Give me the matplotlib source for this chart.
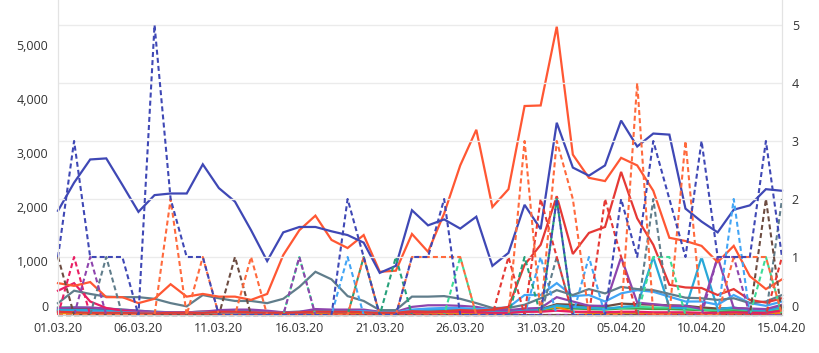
import matplotlib.pyplot as plt
import matplotlib.transforms as mtransforms
import matplotlib.ticker as mticker
import numpy as np
import pandas as pd

plt.rcParams["font.family"] = ["Open Sans", "DejaVu Sans"]

# ---------------------------------------------------------------------------
# data: one value per day, 01.03.20 .. 15.04.20
# ---------------------------------------------------------------------------
dates = pd.date_range("2020-03-01", "2020-04-15", freq="D")
date_labels = [d.strftime("%d.%m.%y") for d in dates]

# solid lines, left axis
indigo_solid = [1930, 2450, 2880, 2900, 2410, 1910, 2220, 2250, 2250, 2790, 2350, 2100, 1570, 1000, 1530, 1630,
                1630, 1550, 1480, 1340, 780, 910, 1940, 1660, 1770, 1600, 1820, 910, 1150, 2040, 1590, 3560,
                2730, 2580, 2770, 3600, 3120, 3360, 3340, 1970, 1730, 1530, 1950, 2030, 2330, 2300]
deeporange_solid = [590, 540, 610, 330, 330, 220, 300, 570, 340, 390, 340, 340, 280, 390, 1110, 1570,
                    1840, 1390, 1240, 1480, 800, 820, 1500, 1170, 1880, 2770, 3430, 2000, 2330, 3870, 3880, 5340,
                    2970, 2540, 2480, 2910, 2770, 2300, 1430, 1370, 1280, 980, 1280, 720, 480, 660]
red_solid = [60, 50, 40, 40, 40, 30, 30, 40, 40, 40, 60, 60, 50, 40, 40, 50, 60, 60, 60, 50, 40, 40, 70, 60,
             70, 90, 80, 100, 150, 930, 1300, 2200, 1130, 1520, 1630, 2650, 1790, 1300, 560, 510, 500, 370,
             480, 280, 230, 310]
bluegrey_solid = [220, 450, 390, 340, 330, 330, 300, 220, 160, 370, 310, 260, 260, 220, 300, 520, 800, 660,
                  350, 260, 90, 90, 340, 340, 350, 300, 220, 130, 130, 190, 310, 460, 370, 480, 400, 520, 480,
                  460, 390, 320, 310, 280, 310, 220, 250, 370]
pink_solid = [450, 590, 250, 130, 80, 50, 40, 40, 50, 60, 50, 50, 50, 40, 40, 40, 60, 50, 50, 60, 40, 40, 50,
              50, 60, 60, 50, 40, 40, 60, 60, 80, 60, 60, 50, 60, 60, 50, 50, 50, 40, 40, 50, 40, 40, 80]
lightblue_solid = [60, 60, 60, 50, 50, 40, 40, 40, 40, 50, 50, 50, 50, 40, 40, 50, 60, 60, 60, 70, 50, 50, 100,
                   120, 130, 130, 110, 120, 140, 370, 370, 590, 350, 370, 250, 400, 460, 430, 340, 250, 250, 190,
                   370, 220, 170, 250]
purple_solid = [130, 140, 140, 120, 100, 80, 60, 50, 50, 60, 90, 100, 100, 80, 50, 60, 110, 100, 100, 100, 60,
                60, 150, 180, 180, 170, 150, 100, 90, 120, 130, 330, 250, 170, 170, 1070, 230, 200, 170, 170,
                110, 1070, 130, 120, 110, 190]
cyan_solid = [90, 90, 90, 80, 70, 60, 50, 50, 50, 60, 60, 60, 60, 50, 40, 50, 60, 60, 60, 60, 40, 40, 80, 90,
              100, 110, 90, 70, 60, 90, 100, 180, 150, 130, 110, 150, 170, 1070, 150, 120, 1070, 110, 140, 90,
              80, 150]
brown_solid = [100, 110, 110, 100, 90, 70, 50, 40, 40, 50, 60, 60, 60, 50, 40, 40, 80, 80, 80, 80, 50, 50, 80,
               90, 90, 90, 80, 60, 50, 90, 110, 200, 190, 170, 160, 210, 200, 190, 180, 170, 140, 120, 130, 110,
               100, 160]
green_solid = [80, 80, 80, 70, 70, 60, 50, 40, 40, 40, 50, 50, 50, 40, 30, 40, 50, 50, 50, 50, 30, 30, 60, 80,
               90, 100, 70, 50, 40, 60, 80, 130, 120, 110, 100, 120, 120, 110, 110, 100, 90, 70, 80, 70, 60, 100]
orange_solid = [30, 30, 30, 30, 30, 20, 20, 20, 20, 20, 30, 30, 30, 20, 20, 20, 30, 30, 30, 30, 20, 20, 30, 40,
                40, 40, 40, 30, 40, 90, 100, 150, 60, 40, 30, 40, 40, 30, 30, 30, 20, 20, 30, 20, 20, 40]
seagreen_solid = [140, 140, 130, 120, 100, 80, 60, 50, 50, 60, 70, 70, 70, 60, 50, 60, 80, 80, 70, 70, 40, 40,
                  90, 100, 110, 120, 100, 70, 60, 80, 100, 170, 150, 140, 130, 130, 150, 140, 140, 130, 100, 90,
                  110, 90, 80, 130]

# dashed lines, right axis
indigo_dash = [1, 3, 1, 1, 1, 0, 5, 2, 1, 1, 0, 0, 0, 0, 0, 0, 0, 0, 2, 1, 0, 0, 1, 1, 2, 0, 0, 0, 0, 0, 0, 2,
               0, 0, 0, 2, 1, 3, 2, 1, 3, 1, 1, 1, 3, 1]
deeporange_dash = [0, 0, 0, 0, 0, 0, 0, 2, 0, 1, 0, 0, 1, 0, 0, 0, 0, 0, 0, 1, 0, 0, 1, 1, 1, 1, 0, 0, 0, 3, 0,
                   3, 2, 0, 0, 0, 4, 0, 0, 3, 0, 0, 1, 1, 1, 0]
red_dash = [0, 0, 0, 0, 0, 0, 0, 0, 0, 0, 0, 0, 0, 0, 0, 0, 0, 0, 0, 0, 0, 0, 0, 0, 0, 0, 0, 0, 1, 0, 2, 1, 0,
            0, 2, 1, 0, 0, 0, 0, 0, 0, 0, 0, 0, 1]
brown_dash = [1, 0, 0, 0, 0, 0, 0, 0, 0, 0, 0, 1, 0, 0, 0, 0, 0, 0, 0, 0, 0, 0, 0, 0, 0, 0, 0, 0, 0, 0, 0, 0, 0,
              0, 0, 0, 0, 0, 0, 0, 0, 0, 0, 0, 2, 0]
purple_dash = [0, 0, 1, 0, 0, 0, 0, 0, 0, 0, 0, 0, 0, 0, 0, 1, 0, 0, 0, 0, 0, 0, 0, 0, 0, 0, 0, 0, 0, 0, 0, 0,
               0, 0, 0, 0, 0, 0, 0, 0, 0, 1, 1, 0, 0, 0]
grey_dash = [0, 0, 0, 1, 0, 0, 0, 0, 0, 0, 0, 0, 0, 0, 0, 0, 0, 0, 0, 0, 0, 0, 0, 0, 0, 0, 0, 0, 0, 0, 0, 1, 0,
             0, 0, 0, 0, 2, 0, 0, 0, 0, 0, 0, 0, 2]
teal_dash = [0, 0, 0, 0, 0, 0, 0, 0, 0, 0, 0, 0, 0, 0, 0, 0, 0, 0, 0, 1, 0, 1, 0, 0, 0, 0, 0, 0, 0, 1, 0, 2, 0,
             0, 0, 0, 0, 0, 0, 0, 0, 0, 0, 0, 0, 0]
lightgreen_dash = [0, 0, 0, 0, 0, 0, 0, 0, 0, 0, 0, 0, 0, 0, 0, 1, 0, 0, 0, 0, 0, 0, 0, 0, 0, 1, 0, 0, 0, 0, 0,
                   0, 0, 0, 0, 0, 0, 1, 1, 0, 0, 0, 0, 0, 1, 0]
lightblue_dash = [0, 0, 0, 0, 0, 0, 0, 0, 0, 0, 0, 0, 0, 0, 0, 0, 0, 0, 1, 0, 0, 0, 0, 0, 0, 0, 0, 0, 0, 0, 1,
                  0, 0, 1, 0, 0, 0, 0, 0, 0, 0, 0, 2, 0, 0, 0]
pink_dash = [0, 1, 0, 0, 0, 0, 0, 0, 0, 0, 0, 0, 0, 0, 0, 0, 0, 0, 0, 0, 0, 0, 0, 0, 0, 0, 0, 0, 0, 0, 0, 0, 0,
             0, 0, 0, 0, 0, 0, 0, 0, 0, 0, 0, 0, 0]
green_dash = [0] * 46

solid_series = [
    (green_solid, "#43A047"), (orange_solid, "#FB8C00"), (seagreen_solid, "#3DDC97"),
    (brown_solid, "#6D4C41"), (cyan_solid, "#29A8D8"), (purple_solid, "#8E44AD"),
    (pink_solid, "#E91E63"), (lightblue_solid, "#42A5F5"), (bluegrey_solid, "#607D8B"),
    (red_solid, "#E53935"), (deeporange_solid, "#FF5733"), (indigo_solid, "#3F48B5"),
]
dash_series = [
    (green_dash, "#43A047"), (pink_dash, "#E91E63"), (lightgreen_dash, "#3DDC97"),
    (lightblue_dash, "#42A5F5"), (teal_dash, "#26A07A"), (grey_dash, "#607D8B"),
    (purple_dash, "#8E44AD"), (brown_dash, "#6D4C41"), (red_dash, "#E53935"),
    (deeporange_dash, "#FF6A3D"), (indigo_dash, "#3F48B5"),
]

# ---------------------------------------------------------------------------
# plot
# ---------------------------------------------------------------------------
fig = plt.figure(figsize=(8.2, 3.53), dpi=100)
ax = fig.add_axes([58 / 820, 38 / 353, 724 / 820, 315 / 353])
ax2 = ax.twinx()

x = np.arange(len(dates))
for vals, col in solid_series:
    ax.plot(x, vals, color=col, lw=1.6, solid_joinstyle="miter", clip_on=False)
for vals, col in dash_series:
    ax2.plot(x, vals, color=col, lw=1.5, dashes=(2.4, 1.5), clip_on=False)

ax.set_xlim(0, len(dates) - 1)
ax.set_ylim(0, 5833)
ax2.set_ylim(0, 5.431)

ax.set_yticks([0, 1000, 2000, 3000, 4000, 5000])
ax.yaxis.set_major_formatter(mticker.FuncFormatter(lambda v, p: "{:,.0f}".format(v)))
ax2.set_yticks([0, 1, 2, 3, 4, 5])
ax.set_xticks(x[::5])
ax.set_xticklabels(date_labels[::5])

ax2.yaxis.grid(True, color="#ebebeb", lw=1)
ax2.set_axisbelow(True)

for a in (ax, ax2):
    a.spines["top"].set_visible(False)
    a.spines["left"].set_color("#e3e3e3")
    a.spines["right"].set_color("#e3e3e3")
    a.spines["bottom"].set_color("#cccccc")
    a.tick_params(length=0, labelsize=9, labelcolor="#333333")
ax.tick_params(axis="y", pad=7)
ax2.tick_params(axis="y", pad=7)
ax.tick_params(axis="x", pad=5)

# the zero labels sit a little above the baseline
shift = mtransforms.ScaledTranslation(0, 0.09, fig.dpi_scale_trans)
for lab in (ax.get_yticklabels()[0], ax2.get_yticklabels()[0]):
    lab.set_transform(lab.get_transform() + shift)

fig.savefig("out.png", dpi=100)
